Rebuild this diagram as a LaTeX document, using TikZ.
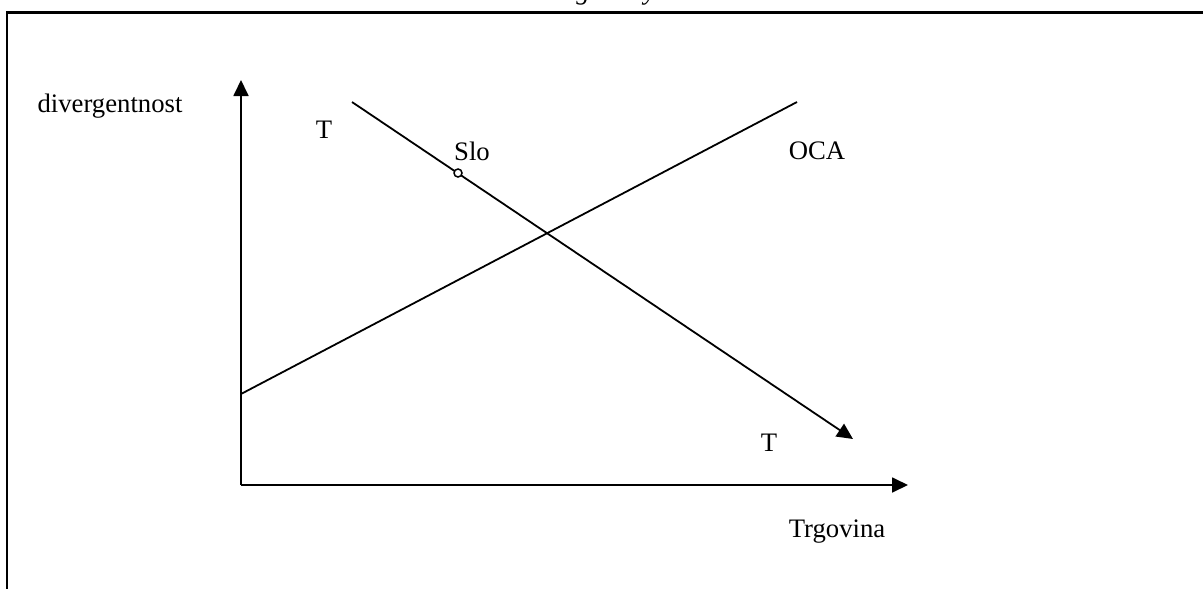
\documentclass[tikz,border=0pt]{standalone}
\usepackage{fontspec}
\setmainfont{Liberation Serif}
\usetikzlibrary{arrows.meta}
\tikzset{
  axis/.style={line width=1.8pt,-{Triangle[length=16pt,width=15pt]}},
  curve/.style={line width=1.8pt},
  lbl/.style={font=\fontsize{26.7}{30}\selectfont,inner sep=0pt},
  frame/.style={line width=2.4pt}
}
\begin{document}
\begin{tikzpicture}[x=1pt,y=-1pt]
\useasboundingbox (0,0) rectangle (1203,589);
% clipped title fragment
\begin{scope}
\clip (0,0) rectangle (1203,9);
\node[lbl,anchor=base] (titleg) at (583,-1) {\itshape g};
\node[lbl,anchor=base] (titley) at (650,-1) {\itshape y};
\end{scope}
% frame
\draw[frame] (1203,12.5) -- (7,12.5) -- (7,589);
% coordinates
\coordinate (O) at (241,485);
\coordinate (ytip) at (241,80);
\coordinate (xtip) at (908,485);
\coordinate (ocaS) at (241,394);
\coordinate (ocaE) at (797,102);
\coordinate (tS) at (352,102);
\coordinate (tE) at (853,439);
% axes
\draw[axis] (O) -- (ytip);
\draw[axis] (O) -- (xtip);
% lines
\draw[curve] (ocaS) -- (ocaE);
\draw[axis] (tS) -- (tE);
\node[circle,draw,line width=1.5pt,fill=white,inner sep=0pt,minimum size=8pt] (slo) at (458,173) {};
% labels
\node[lbl] (div) at (110,106) {divergentnost};
\node[lbl] (T1) at (324,130) {T};
\node[lbl] (Slo) at (472,151) {Slo};
\node[lbl] (OCA) at (817,151) {OCA};
\node[lbl] (T2) at (769,443) {T};
\node[lbl] (trg) at (837,532) {Trgovina};
\end{tikzpicture}
\end{document}
